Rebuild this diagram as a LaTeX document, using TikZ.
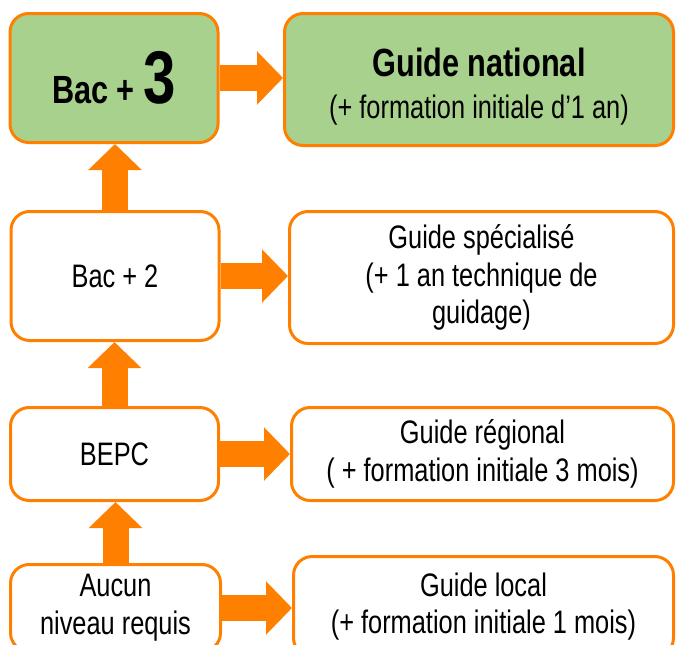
\documentclass[tikz,border=0pt]{standalone}
\usepackage{fontspec}
\setmainfont{Liberation Sans}[FakeStretch=0.78]
\usetikzlibrary{arrows.meta}
\definecolor{orangeline}{RGB}{255,128,0}
\definecolor{greenfill}{RGB}{169,209,142}
\newcommand{\txtsize}{\fontsize{24.4}{28.3}\selectfont}
\tikzset{
  lvlbox/.style={draw=orangeline, line width=2.25pt, rounded corners=14pt, fill=white, align=center, inner sep=0pt, minimum width=156pt, font=\txtsize},
  guidebox/.style={lvlbox, minimum width=288pt},
  bigarrow/.style={orangeline, line width=19.5pt, -{Triangle[width=39pt, length=19.5pt]}}
}
\begin{document}
\begin{tikzpicture}[x=0.75pt,y=0.75pt,yscale=-1,xscale=1]
\clip (0,0) rectangle (676,644);
\draw (114,78) node (bac3) [lvlbox, fill=greenfill, minimum height=96.75pt] {\bfseries\fontsize{29.5}{30}\selectfont Bac + {\fontsize{56}{56}\selectfont 3}};
\draw (479,79.5) node (gnat) [guidebox, fill=greenfill, minimum width=291.75pt, minimum height=99pt] {\rule{0pt}{32pt}{\bfseries\fontsize{29.5}{30}\selectfont Guide national}\\[3.5pt] (+ formation initiale d’1 an)};
\draw (115,276) node (bac2) [lvlbox, minimum height=96.75pt] {Bac + 2};
\draw (481.5,277.5) node (gspe) [guidebox, minimum height=99pt] {Guide spécialisé\\ (+ 1 an technique de\\ guidage)};
\draw (114.5,454) node (bepc) [lvlbox, minimum height=69.75pt] {BEPC};
\draw (482.5,454) node (greg) [guidebox, minimum width=286.5pt, minimum height=69.75pt] {Guide régional\\ ( + formation initiale 3 mois)};
\draw (115.5,608) node (aucun) [lvlbox, minimum width=157.5pt, minimum height=65.25pt] {Aucun\\ niveau requis};
\draw (483.5,606.5) node (gloc) [guidebox, minimum width=285pt, minimum height=75pt] {Guide local\\ (+ formation initiale 1 mois)};
% block arrows
\draw [bigarrow] (bac3.east) -- (bac3.east -| gnat.west);
\draw [bigarrow] (bac2.east) -- (bac2.east -| gspe.west);
\draw [bigarrow] (bepc.east) -- (bepc.east -| greg.west);
\draw [bigarrow] (aucun.east) -- (aucun.east -| gloc.west);
\draw [bigarrow] (bac2.north) -- (bac2.north |- bac3.south);
\draw [bigarrow] (bepc.north) -- (bepc.north |- bac2.south);
\draw [bigarrow] (aucun.north) -- (aucun.north |- bepc.south);
\end{tikzpicture}
\end{document}
